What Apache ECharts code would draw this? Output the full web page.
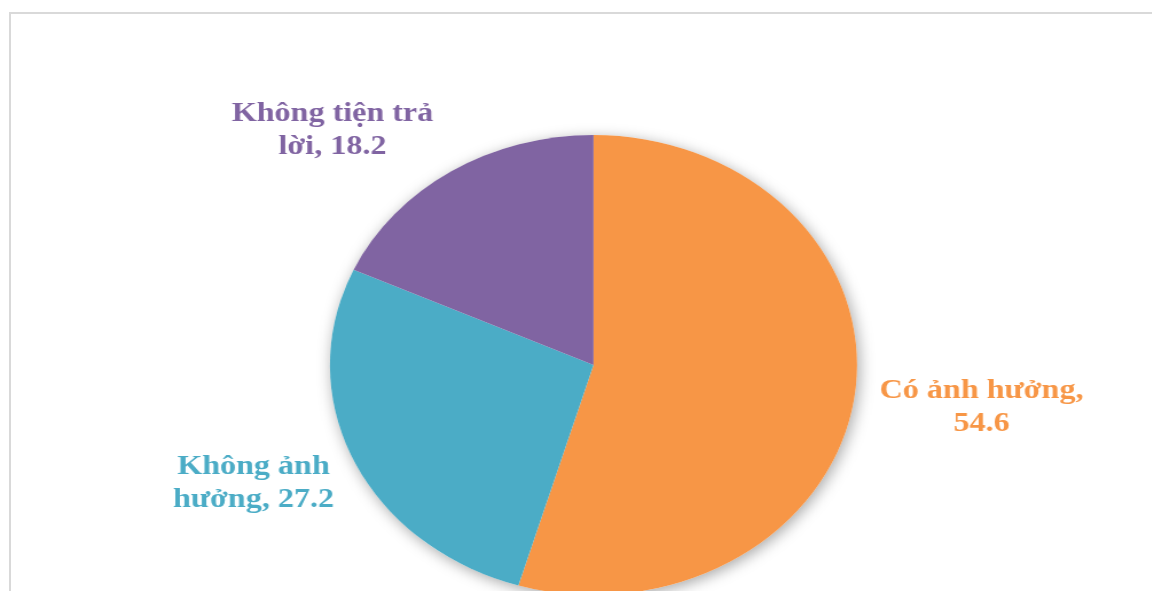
<!DOCTYPE html>
<html>
<head>
<meta charset="utf-8">
<script src="https://cdn.jsdelivr.net/npm/echarts@6/dist/echarts.min.js"></script>
<style>
  html, body { margin: 0; padding: 0; background: #ffffff; overflow: hidden; }
  #frame {
    position: absolute; left: 9px; top: 12px;
    width: 1200px; height: 640px;
    border: 2px solid #d9d9d9; box-sizing: border-box;
  }
  #chart {
    position: absolute; left: 0; top: 0;
    width: 1005px; height: 591px;
    transform: scaleX(1.146); transform-origin: 0 0;
  }
</style>
</head>
<body>
<div id="frame"></div>
<div id="chart"></div>
<script>
// Survey answers (%)
const categories = ['Có ảnh hưởng', 'Không ảnh hưởng', 'Không tiện trả lời'];
const values = [54.6, 27.2, 18.2];
const colors = ['#F79646', '#4BACC6', '#8064A2'];
// Label text, broken over two lines
const labelTexts = ['Có ảnh hưởng,\n54.6', 'Không ảnh\nhưởng, 27.2', 'Không tiện trả\nlời, 18.2'];
// Label anchor points (chart pixels, before horizontal stretch)
const labelAnchors = [[856.5, 407], [221.2, 483], [290.1, 130]];

const chart = echarts.init(document.getElementById('chart'), null, { renderer: 'canvas' });
const total = values.reduce((a, b) => a + b, 0);
const center = [517.9, 365];
const radius = 230;

chart.setOption({
  animation: false,
  backgroundColor: 'transparent',
  series: [
    {
      // soft drop shadow underneath the pie
      type: 'pie',
      silent: true,
      center: center,
      radius: radius,
      z: 1,
      label: { show: false },
      labelLine: { show: false },
      data: [{ value: total, name: '' }],
      itemStyle: {
        color: '#ffffff',
        shadowBlur: 14,
        shadowColor: 'rgba(0,0,0,0.35)',
        shadowOffsetX: 2,
        shadowOffsetY: 3
      }
    },
    {
      type: 'pie',
      center: center,
      radius: radius,
      startAngle: 90,
      clockwise: true,
      z: 2,
      itemStyle: { borderWidth: 0 },
      labelLine: { show: false },
      label: {
        show: true,
        position: 'outside',
        formatter: p => labelTexts[p.dataIndex],
        fontFamily: '"Liberation Serif", "Times New Roman", serif',
        fontWeight: 'bold',
        fontSize: 28,
        lineHeight: 33,
        align: 'center'
      },
      labelLayout: params => ({
        x: labelAnchors[params.dataIndex][0],
        y: labelAnchors[params.dataIndex][1],
        align: 'center',
        verticalAlign: 'middle'
      }),
      data: categories.map((c, i) => ({
        name: c,
        value: values[i],
        itemStyle: { color: colors[i] },
        label: { color: colors[i] }
      }))
    }
  ]
});
</script>
</body>
</html>
